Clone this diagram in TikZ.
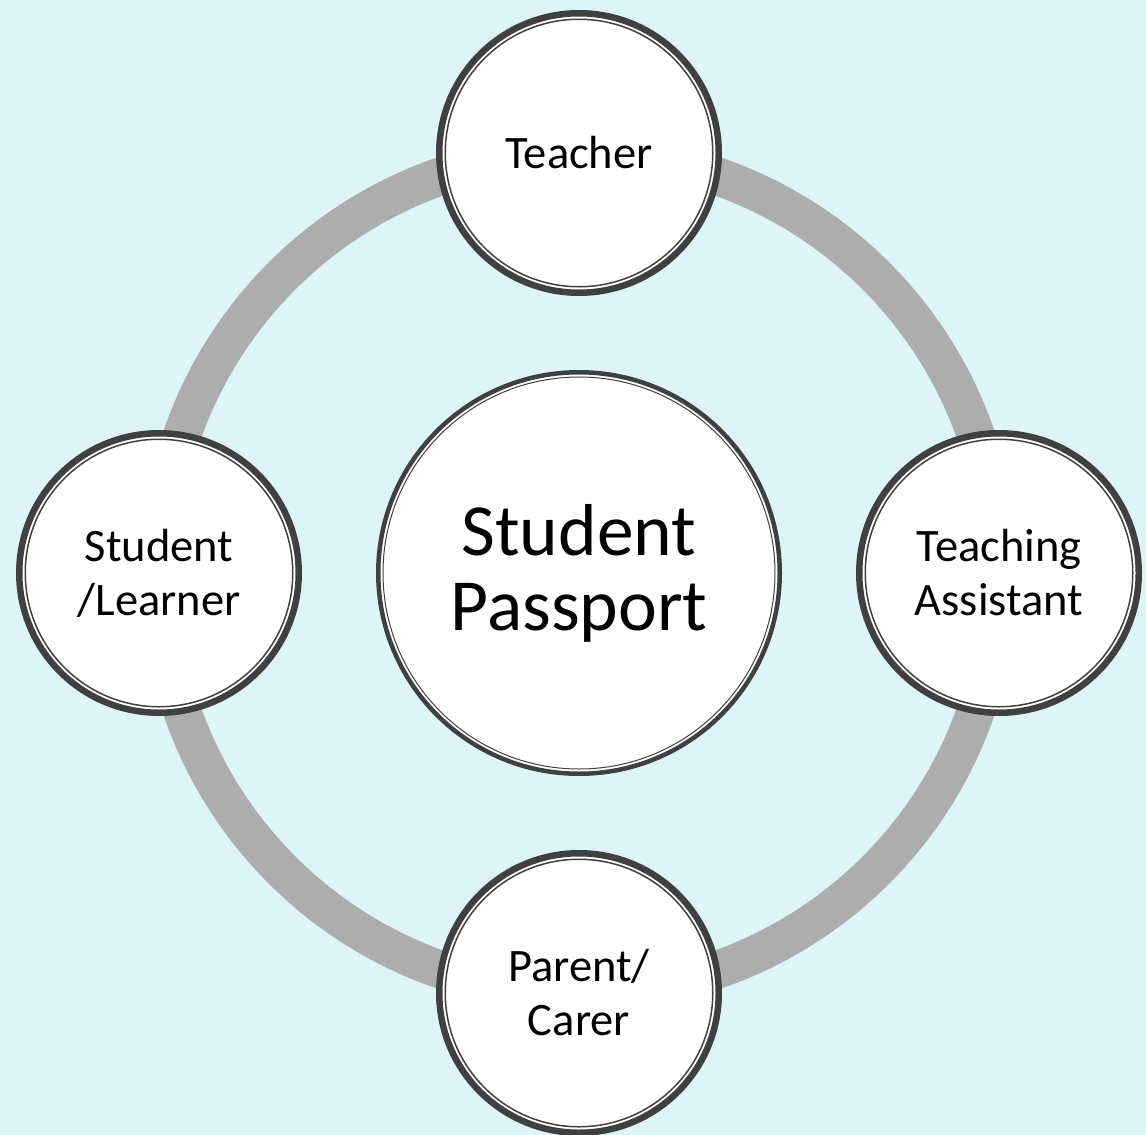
\documentclass[tikz,border=0pt]{standalone}
\usepackage{fontspec}
\setmainfont{Carlito}
\definecolor{bgcyan}{RGB}{221,244,249}
\definecolor{ringgray}{RGB}{173,173,173}
\definecolor{rimdark}{RGB}{64,64,64}
\begin{document}
\begin{tikzpicture}[x=1pt,y=-1pt,
  role/.style={circle, fill=white, draw=rimdark, line width=6.5pt,
    minimum size=279.5pt, inner sep=0pt, align=center,
    font=\fontsize{46.5}{54}\selectfont},
  hub/.style={circle, fill=white, draw=rimdark, line width=4.5pt,
    minimum size=401.5pt, inner sep=0pt, align=center,
    font=\fontsize{73.5}{75}\selectfont},
  innerrim/.style={draw=rimdark, line width=1.5pt},
  loop/.style={draw=ringgray, line width=38pt}]
  % canvas
  \fill[bgcyan] (0,0) rectangle (1146,1135);
  \useasboundingbox (0,0) rectangle (1146,1135);
  % positions
  \coordinate (mid) at (579,573);
  % grey loop linking the four roles
  \draw[loop] (mid) circle (420);
  % hub
  \node[hub] (passport) at (mid) {Student\\Passport};
  \draw[innerrim, line width=1pt] (passport.center) circle (196);
  % roles
  \node[role] (teacher) at (579,153) {Teacher};
  \node[role] (assistant) at (999,573) {Teaching\\Assistant};
  \node[role] (parent) at (579,993) {Parent/\\Carer};
  \node[role] (learner) at (159,573) {Student\\/Learner};
  \foreach \n in {teacher,assistant,parent,learner}
    \draw[innerrim] (\n.center) circle (133.75);
\end{tikzpicture}
\end{document}
